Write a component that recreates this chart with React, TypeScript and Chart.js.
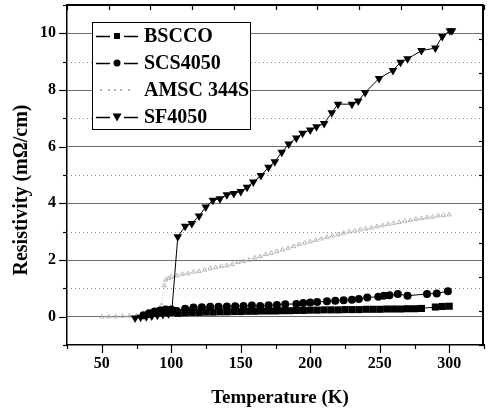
import React, { useEffect, useRef } from "react";
import { Chart, registerables } from "chart.js";

Chart.register(...registerables);

const SERIES_NAMES = ["BSCCO", "SCS4050", "AMSC 344S", "SF4050"];

const SF_X = [74, 78, 82, 86, 90, 94, 98, 100.5, 104.7, 110, 114.8, 120, 124.8, 130, 135, 140, 145, 150, 154.5, 159, 164.5, 170, 174.5, 179.5, 184.5, 190, 194.5, 200, 204.5, 210, 215.5, 220, 230, 234.5, 239.5, 249.5, 259.5, 265, 270, 280, 290, 295, 300.5, 302];
const SF_Y = [-0.05, -0.02, 0.0, 0.02, 0.05, 0.08, 0.1, 0.25, 2.82, 3.19, 3.29, 3.55, 3.87, 4.11, 4.16, 4.3, 4.35, 4.42, 4.57, 4.75, 4.98, 5.27, 5.47, 5.8, 6.09, 6.31, 6.47, 6.59, 6.7, 6.82, 7.2, 7.5, 7.5, 7.61, 7.91, 8.41, 8.69, 8.98, 9.1, 9.39, 9.48, 9.89, 10.09, 10.09];

const BS_X = [85, 90, 95, 100, 105, 110, 115, 120, 125, 130, 135, 140, 145, 150, 155, 160, 165, 170, 175, 180, 185, 190, 195, 200, 205, 210, 215, 220, 225, 230, 235, 240, 245, 250, 255, 260, 265, 270, 275, 280, 290, 295, 300];
const BS_Y = [0.08, 0.12, 0.14, 0.15, 0.12, 0.14, 0.15, 0.15, 0.16, 0.16, 0.17, 0.17, 0.18, 0.18, 0.19, 0.19, 0.2, 0.2, 0.2, 0.21, 0.21, 0.22, 0.22, 0.23, 0.23, 0.24, 0.24, 0.24, 0.25, 0.25, 0.25, 0.26, 0.26, 0.26, 0.27, 0.27, 0.27, 0.28, 0.28, 0.29, 0.34, 0.36, 0.37];

const SCS_X = [80, 84, 88, 92, 96, 100, 104, 110, 116, 122, 128, 134, 140, 146, 152, 158, 164, 170, 176, 182, 190, 195, 200, 205, 212, 218, 224, 230, 235, 241, 249, 253, 257, 263, 270, 284, 291, 299];
const SCS_Y = [0.05, 0.12, 0.18, 0.22, 0.25, 0.25, 0.2, 0.28, 0.32, 0.33, 0.35, 0.35, 0.36, 0.37, 0.38, 0.39, 0.38, 0.4, 0.41, 0.44, 0.45, 0.48, 0.5, 0.52, 0.54, 0.56, 0.58, 0.6, 0.62, 0.68, 0.7, 0.74, 0.76, 0.8, 0.74, 0.8, 0.82, 0.9];

const AM_X = [50, 55, 60, 65, 70, 75, 80, 85, 90, 93, 95, 96, 98, 100, 104, 108, 112, 116, 120, 124, 128, 132, 136, 140, 144, 148, 152, 156, 160, 164, 168, 172, 176, 180, 184, 188, 192, 196, 200, 204, 208, 212, 216, 220, 224, 228, 232, 236, 240, 244, 248, 252, 256, 260, 264, 268, 272, 276, 280, 284, 288, 292, 296, 300];
const AM_Y = [0.0, 0.0, 0.0, 0.02, 0.03, 0.03, 0.05, 0.08, 0.1, 0.4, 1.1, 1.3, 1.35, 1.4, 1.45, 1.5, 1.52, 1.58, 1.6, 1.65, 1.7, 1.73, 1.78, 1.8, 1.85, 1.92, 1.95, 2.0, 2.08, 2.12, 2.2, 2.24, 2.3, 2.36, 2.42, 2.48, 2.55, 2.6, 2.65, 2.7, 2.75, 2.8, 2.85, 2.9, 2.95, 3.0, 3.03, 3.07, 3.1, 3.13, 3.18, 3.22, 3.26, 3.3, 3.33, 3.37, 3.4, 3.44, 3.47, 3.5, 3.52, 3.56, 3.58, 3.6];

const X_MIN = 25, X_MAX = 325;
const Y_MIN = -1, Y_MAX = 11;
const X_TITLE = "Temperature (K)";
const Y_TITLE = "Resistivity (mΩ/cm)";

const SERIF = "'Liberation Serif', 'Times New Roman', serif";

const zip = (xs: number[], ys: number[]) => xs.map((x, i) => ({ x, y: ys[i] }));

const framePlugin = {
  id: "frame",
  beforeDatasetsDraw(chart: any) {
    const { ctx, chartArea: a, scales } = chart;
    const y = scales.y;
    ctx.save();
    ctx.strokeStyle = "#8a8a8a";
    ctx.lineWidth = 1;
    ctx.setLineDash([1, 3]);
    for (let v = 1; v <= 9; v += 2) {
      const py = Math.round(y.getPixelForValue(v)) + 0.5;
      ctx.beginPath();
      ctx.moveTo(a.left, py);
      ctx.lineTo(a.right, py);
      ctx.stroke();
    }
    ctx.restore();
  },
  afterDraw(chart: any) {
    const { ctx, chartArea: a, scales } = chart;
    const x = scales.x, y = scales.y;
    ctx.save();
    ctx.strokeStyle = "#000";
    ctx.lineWidth = 1.2;
    for (let v = 25; v <= 325; v += 25) {
      const px = Math.round(x.getPixelForValue(v)) + 0.5;
      const len = v % 50 === 0 ? 8 : 4;
      ctx.beginPath();
      ctx.moveTo(px, a.bottom);
      ctx.lineTo(px, a.bottom + len);
      ctx.stroke();
    }
    for (let v = -1; v <= 11; v += 1) {
      const py = Math.round(y.getPixelForValue(v)) + 0.5;
      const len = v % 2 === 0 ? 8 : 4;
      ctx.beginPath();
      ctx.moveTo(a.left, py);
      ctx.lineTo(a.left - len, py);
      ctx.stroke();
    }
    ctx.lineWidth = 2;
    ctx.beginPath();
    ctx.moveTo(a.left, a.top);
    ctx.lineTo(a.right, a.top);
    ctx.moveTo(a.right - 1, a.top);
    ctx.lineTo(a.right - 1, a.bottom);
    ctx.stroke();
    ctx.lineWidth = 1.2;
    for (let v = 25; v <= 325; v += 30) {
      const px = Math.round(x.getPixelForValue(v)) + 0.5;
      ctx.beginPath();
      ctx.moveTo(px, a.top);
      ctx.lineTo(px, a.top + 5);
      ctx.stroke();
    }
    for (let i = 0; i <= 10; i++) {
      const v = -1 + 1.2 * i;
      const py = Math.round(y.getPixelForValue(v)) + 0.5;
      ctx.beginPath();
      ctx.moveTo(a.right, py);
      ctx.lineTo(a.right - 5, py);
      ctx.stroke();
    }

    ctx.fillStyle = "#000";
    ctx.font = `bold 19px ${SERIF}`;
    ctx.textAlign = "center";
    ctx.textBaseline = "middle";
    ctx.fillText(X_TITLE, 280, 398);
    ctx.save();
    ctx.translate(22, 190);
    ctx.rotate(-Math.PI / 2);
    ctx.font = `bold 20px ${SERIF}`;
    ctx.fillText(Y_TITLE, 0, 0);
    ctx.restore();

    const bx = 92, by = 22, bw = 158, bh = 107;
    ctx.fillStyle = "#fff";
    ctx.fillRect(bx, by, bw, bh);
    ctx.strokeStyle = "#000";
    ctx.lineWidth = 1;
    ctx.strokeRect(bx + 0.5, by + 0.5, bw, bh);
    const rows = [36, 63, 90, 117];
    const shapes = ["rect", "circle", "amsc", "tri"];
    rows.forEach((ry, i) => {
      const st = shapes[i];
      const cx = 117;
      if (st === "amsc") {
        ctx.fillStyle = "#b5b5b5";
        [100, 108, 114, 120, 128].forEach((dx) => ctx.fillRect(dx, ry - 1, 2, 2));
      } else {
        ctx.strokeStyle = "#000";
        ctx.lineWidth = 1.5;
        ctx.beginPath();
        ctx.moveTo(96, ry + 0.5);
        ctx.lineTo(110, ry + 0.5);
        ctx.moveTo(124, ry + 0.5);
        ctx.lineTo(138, ry + 0.5);
        ctx.stroke();
        ctx.fillStyle = "#000";
        if (st === "rect") {
          ctx.fillRect(cx - 3, ry - 3, 6, 6);
        } else if (st === "circle") {
          ctx.beginPath();
          ctx.arc(cx, ry, 3.5, 0, Math.PI * 2);
          ctx.fill();
        } else {
          ctx.beginPath();
          ctx.moveTo(cx - 4.5, ry - 3.5);
          ctx.lineTo(cx + 4.5, ry - 3.5);
          ctx.lineTo(cx, ry + 4.5);
          ctx.closePath();
          ctx.fill();
        }
      }
      ctx.fillStyle = "#000";
      ctx.font = `bold 20px ${SERIF}`;
      ctx.textAlign = "left";
      ctx.textBaseline = "middle";
      ctx.fillText(SERIES_NAMES[i], 144, ry + 1);
    });
    ctx.restore();
  },
};

export default function App() {
  const ref = useRef<HTMLCanvasElement | null>(null);
  useEffect(() => {
    document.body.style.margin = "0";
    const canvas = ref.current;
    if (!canvas) return;
    const chart = new Chart(canvas, {
      type: "scatter",
      data: {
        datasets: [
          {
            label: SERIES_NAMES[3],
            data: zip(SF_X, SF_Y),
            showLine: true,
            borderColor: "#000",
            borderWidth: 1,
            backgroundColor: "#000",
            pointStyle: "triangle",
            rotation: 180,
            pointRadius: 5,
            pointBorderWidth: 0,
          },
          {
            label: SERIES_NAMES[1],
            data: zip(SCS_X, SCS_Y),
            showLine: true,
            borderColor: "#000",
            borderWidth: 1,
            backgroundColor: "#000",
            pointStyle: "circle",
            pointRadius: 4,
            pointBorderWidth: 0,
          },
          {
            label: SERIES_NAMES[0],
            data: zip(BS_X, BS_Y),
            showLine: true,
            borderColor: "#000",
            borderWidth: 1,
            backgroundColor: "#000",
            pointStyle: "rect",
            pointRadius: 5,
            pointBorderWidth: 0,
          },
          {
            label: SERIES_NAMES[2],
            data: zip(AM_X, AM_Y),
            showLine: true,
            borderColor: "#bdbdbd",
            borderWidth: 1,
            borderDash: [1, 2],
            backgroundColor: "rgba(0,0,0,0)",
            pointBorderColor: "#a8a8a8",
            pointStyle: "triangle",
            pointRadius: 2.5,
            pointBorderWidth: 0.8,
          },
        ],
      },
      options: {
        responsive: false,
        maintainAspectRatio: false,
        animation: false,
        devicePixelRatio: 1,
        layout: { padding: { top: 4, right: 0, left: 0, bottom: 0 } },
        plugins: { legend: { display: false }, tooltip: { enabled: false } },
        scales: {
          x: {
            type: "linear",
            min: X_MIN,
            max: X_MAX,
            afterFit: (s: any) => {
              s.height = 67;
              s.paddingLeft = 0;
              s.paddingRight = 0;
            },
            ticks: {
              stepSize: 25,
              autoSkip: false,
              maxRotation: 0,
              padding: 9,
              color: "#000",
              font: { family: SERIF, size: 16, weight: "bold" },
              callback: (v: any) => (v % 50 === 0 && v >= 50 && v <= 300 ? String(v) : ""),
            },
            grid: { drawOnChartArea: false, drawTicks: false },
            border: { display: true, color: "#000", width: 1.5 },
          },
          y: {
            type: "linear",
            min: Y_MIN,
            max: Y_MAX,
            afterFit: (s: any) => {
              s.width = 67;
              s.paddingTop = 0;
              s.paddingBottom = 0;
            },
            ticks: {
              stepSize: 1,
              autoSkip: false,
              padding: 11,
              color: "#000",
              font: { family: SERIF, size: 16, weight: "bold" },
              callback: (v: any) => (v % 2 === 0 && v >= 0 && v <= 10 ? String(v) : ""),
            },
            grid: {
              drawTicks: false,
              lineWidth: 1,
              color: (c: any) =>
                c.tick && c.tick.value % 2 === 0 && c.tick.value >= 0 && c.tick.value <= 10
                  ? "#6e6e6e"
                  : "rgba(0,0,0,0)",
            },
            border: { display: true, color: "#000", width: 1.5 },
          },
        },
      },
      plugins: [framePlugin],
    });
    return () => chart.destroy();
  }, []);
  return <canvas ref={ref} width={489} height={412} style={{ display: "block" }} />;
}
